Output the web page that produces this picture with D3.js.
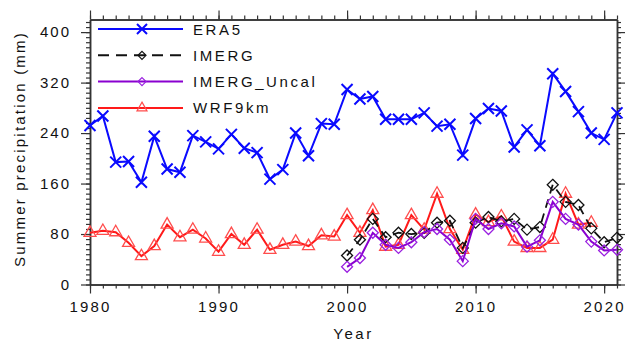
<!DOCTYPE html>
<html>
<head>
<meta charset="utf-8">
<script src="https://cdn.jsdelivr.net/npm/d3@7"></script>
<style>
  body { margin: 0; background: #fff; }
  svg text { font-family: "Liberation Sans", Arial, sans-serif; fill: #111; }
</style>
</head>
<body>
<div id="plot"></div>
<script>
// summer precipitation values (mm)
const era5Years = d3.range(1980, 2022);
const era5 = [252, 267, 194, 195, 162, 235, 183, 178, 236, 226,
    215, 238, 216, 209, 167, 182, 240, 204, 255, 254,
    309, 294, 298, 262, 262, 262, 272, 251, 254, 205,
    263, 279, 275, 218, 245, 220, 334, 306, 274, 240,
    230, 272];

const wrfYears = d3.range(1980, 2020);
const wrf = [82, 85, 83, 66, 45, 61, 95, 75, 87, 73,
    52, 80, 63, 87, 55, 63, 68, 61, 78, 76,
    110, 82, 118, 60, 63, 110, 87, 144, 88, 55,
    111, 99, 108, 68, 58, 58, 71, 144, 95, 98];

const imergYears = d3.range(2000, 2022);
const imerg = [46, 71, 104, 75, 82, 80, 82, 98, 101, 58,
    98, 107, 100, 104, 87, 91, 158, 131, 126, 89,
    67, 74];

const uncal = [28, 42, 82, 63, 58, 67, 83, 88, 71, 37,
    104, 88, 97, 92, 60, 70, 131, 104, 95, 68,
    54, 55];

const yMajor = [0, 80, 160, 240, 320, 400];
const xMajor = [1980, 1990, 2000, 2010, 2020];

const legendNames = ["ERA5", "IMERG", "IMERG_Uncal", "WRF9km"];

const width = 625, height = 343;
const mLeft = 90, mRight = 617, mTop = 19.5, mBottom = 284.5;

const svg = d3.select("#plot").append("svg")
    .attr("width", width)
    .attr("height", height);

const x = d3.scaleLinear().domain([1980, 2021]).range([mLeft, mRight]);
const y = d3.scaleLinear().domain([0, 420]).range([mBottom, mTop]);

const axisColor = "#333";

// axes: major + minor ticks on all four sides
function drawAxis(axisFn, scale, translate, major, minor, labels) {
    const gMinor = svg.append("g").attr("transform", translate)
        .call(axisFn(scale).tickValues(minor).tickSize(4).tickSizeOuter(0).tickFormat(""));
    const gMajor = svg.append("g").attr("transform", translate)
        .call(axisFn(scale).tickValues(major).tickSize(9).tickSizeOuter(0)
            .tickFormat(labels ? d3.format("d") : ""));
    [gMinor, gMajor].forEach(g => {
        g.select(".domain").attr("stroke", axisColor).attr("stroke-width", 1.5);
        g.selectAll(".tick line").attr("stroke", axisColor).attr("stroke-width", 1.2);
    });
    return gMajor;
}

const yMinor = d3.range(0, 421, 8);
const xMinor = d3.range(1980, 2022, 1);

const gx = drawAxis(d3.axisBottom, x, `translate(0,${mBottom})`, xMajor, xMinor, true);
gx.selectAll(".tick text")
    .attr("y", 27)
    .attr("dy", 0)
    .style("font-size", "15px")
    .style("letter-spacing", "2.2px")
    .attr("fill", "#111");
drawAxis(d3.axisTop, x, `translate(0,${mTop})`, xMajor, xMinor, false);

const gy = drawAxis(d3.axisLeft, y, `translate(${mLeft},0)`, yMajor, yMinor, true);
gy.selectAll(".tick text")
    .attr("x", -19)
    .style("font-size", "15px")
    .style("letter-spacing", "2px")
    .attr("fill", "#111");
drawAxis(d3.axisRight, y, `translate(${mRight},0)`, yMajor, yMinor, false);

// axis titles
svg.append("text")
    .attr("x", (mLeft + mRight) / 2)
    .attr("y", 339)
    .attr("text-anchor", "middle")
    .style("font-size", "15px")
    .style("letter-spacing", "2.5px")
    .text("Year");

svg.append("text")
    .attr("transform", `translate(25,${(mTop + mBottom) / 2 - 3}) rotate(-90)`)
    .attr("text-anchor", "middle")
    .style("font-size", "15px")
    .style("letter-spacing", "2.2px")
    .text("Summer precipitation (mm)");

// markers
function crossPath(s) { return `M${-s},${-s}L${s},${s}M${-s},${s}L${s},${-s}`; }
function diamondPath(s) { return `M0,${-s}L${s},0L0,${s}L${-s},0Z`; }
function trianglePath(s) { return `M0,${-s * 1.15}L${s},${s * 0.6}L${-s},${s * 0.6}Z`; }

const series = [
    { name: "WRF9km", years: wrfYears, vals: wrf, color: "#ff1a1a", dash: null,
      marker: trianglePath(6), mColor: "#ff4d4d", mWidth: 1.3, lw: 2 },
    { name: "ERA5", years: era5Years, vals: era5, color: "#0a0aff", dash: null,
      marker: crossPath(5.5), mColor: "#0a0aff", mWidth: 2, lw: 2 },
    { name: "IMERG", years: imergYears, vals: imerg, color: "#111", dash: "9,6",
      marker: diamondPath(5.5), mColor: "#111", mWidth: 1.3, lw: 1.8 },
    { name: "IMERG_Uncal", years: imergYears, vals: uncal, color: "#8a00d0", dash: null,
      marker: diamondPath(5.5), mColor: "#9a20e0", mWidth: 1.3, lw: 2 }
];

const line = d3.line().x(d => x(d[0])).y(d => y(d[1]));

series.forEach(s => {
    const pts = s.years.map((yr, i) => [yr, s.vals[i]]);
    svg.append("path")
        .datum(pts)
        .attr("d", line)
        .attr("fill", "none")
        .attr("stroke", s.color)
        .attr("stroke-width", s.lw)
        .attr("stroke-dasharray", s.dash);
    svg.append("g").selectAll("path")
        .data(pts)
        .enter()
        .append("path")
        .attr("transform", d => `translate(${x(d[0])},${y(d[1])})`)
        .attr("d", s.marker)
        .attr("fill", "none")
        .attr("stroke", s.mColor)
        .attr("stroke-width", s.mWidth);
});

// legend
const legendStyle = {
    "ERA5": { color: "#0a0aff", dash: null, marker: crossPath(5), mColor: "#0a0aff", mWidth: 2 },
    "IMERG": { color: "#111", dash: "11,7", marker: diamondPath(4), mColor: "#111", mWidth: 1.2 },
    "IMERG_Uncal": { color: "#8a00d0", dash: null, marker: diamondPath(4), mColor: "#9a20e0", mWidth: 1.2 },
    "WRF9km": { color: "#ff1a1a", dash: null, marker: trianglePath(5), mColor: "#ff4d4d", mWidth: 1.2 }
};

const legend = svg.append("g").attr("transform", "translate(98,29)");
legendNames.forEach((name, i) => {
    const st = legendStyle[name];
    const row = legend.append("g").attr("transform", `translate(0,${i * 26.3})`);
    row.append("line")
        .attr("x1", 0).attr("x2", 85)
        .attr("stroke", st.color)
        .attr("stroke-width", 2)
        .attr("stroke-dasharray", st.dash);
    row.append("path")
        .attr("transform", "translate(44,0)")
        .attr("d", st.marker)
        .attr("fill", "none")
        .attr("stroke", st.mColor)
        .attr("stroke-width", st.mWidth);
    row.append("text")
        .attr("x", 95)
        .attr("y", 5.5)
        .style("font-size", "15px")
        .style("letter-spacing", "2.6px")
        .text(name);
});
</script>
</body>
</html>
